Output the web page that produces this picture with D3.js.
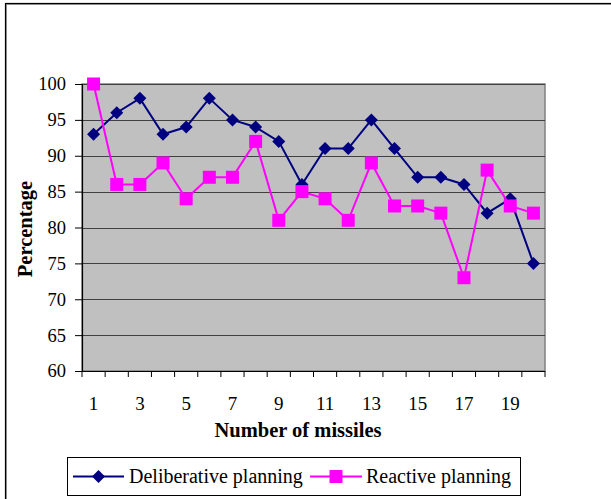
<!DOCTYPE html>
<html>
<head>
<meta charset="utf-8">
<script src="https://cdn.jsdelivr.net/npm/d3@7"></script>
<style>
  body { margin: 0; background: #fff; }
  text { font-family: "Liberation Serif", "Times New Roman", serif; }
</style>
</head>
<body>
<div id="chart"></div>
<script>
// missiles on the x axis, percentages for each planner
var missiles = d3.range(1, 21);
var deliberative = [93, 96, 98, 93, 94, 98, 95, 94, 92, 86, 91, 91, 95, 91, 87, 87, 86, 82, 84, 75];
var reactive = [100, 86, 86, 89, 84, 87, 87, 92, 81, 85, 84, 81, 89, 83, 83, 82, 73, 88, 83, 82];
var yTicks = [60, 65, 70, 75, 80, 85, 90, 95, 100];
var seriesNames = ["Deliberative planning", "Reactive planning"];

var W = 611, H = 499;
var pL = 82, pT = 84, pR = 545, pB = 371;

var svg = d3.select("#chart").append("svg")
  .attr("width", W).attr("height", H);

// outer frame
svg.append("rect").attr("x", 6.5).attr("y", 4.5).attr("width", 700).attr("height", 600)
  .attr("fill", "none").attr("stroke", "#999").attr("stroke-width", 1);
svg.append("rect").attr("x", 5.5).attr("y", 3.5).attr("width", 700).attr("height", 600)
  .attr("fill", "none").attr("stroke", "#000").attr("stroke-width", 1.2);

var x = d3.scaleBand().domain(missiles).range([pL, pR]);
var y = d3.scaleLinear().domain([60, 100]).range([pB, pT]);

// plot background
svg.append("rect").attr("x", pL).attr("y", pT)
  .attr("width", pR - pL).attr("height", pB - pT)
  .attr("fill", "#c0c0c0").attr("stroke", "#808080").attr("stroke-width", 1.5);

// gridlines
svg.selectAll(".grid").data(yTicks.slice(1)).enter().append("line")
  .attr("x1", pL).attr("x2", pR)
  .attr("y1", function(d) { return Math.round(y(d)) + 0.5; })
  .attr("y2", function(d) { return Math.round(y(d)) + 0.5; })
  .attr("stroke", "#404040").attr("stroke-width", 1);

// y axis
var yAxis = svg.append("g").attr("transform", "translate(" + pL + ",0)")
  .call(d3.axisLeft(y).tickValues(yTicks).tickSize(7).tickPadding(9));
yAxis.select(".domain").attr("stroke", "#000").attr("stroke-width", 1.2);
yAxis.selectAll("text").attr("font-size", 18.5).attr("fill", "#000")
  .style("font-family", "Liberation Serif");

// x axis: ticks between categories
var xAxisG = svg.append("g").attr("transform", "translate(0," + pB + ")");
xAxisG.append("line").attr("x1", pL).attr("x2", pR).attr("y1", 0.5).attr("y2", 0.5)
  .attr("stroke", "#000").attr("stroke-width", 1.2);
var edges = missiles.map(function(m) { return x(m); }).concat([pR]);
xAxisG.selectAll(".tk").data(edges).enter().append("line")
  .attr("x1", function(d) { return d; }).attr("x2", function(d) { return d; })
  .attr("y1", 0).attr("y2", 6).attr("stroke", "#000");
xAxisG.selectAll(".lbl").data(missiles.filter(function(m) { return m % 2 === 1; })).enter()
  .append("text")
  .attr("x", function(d) { return x(d) + x.bandwidth() / 2; })
  .attr("y", 39)
  .attr("text-anchor", "middle").attr("font-size", 19)
  .text(function(d) { return d; });

// axis titles
svg.append("text").attr("x", 298).attr("y", 437)
  .attr("text-anchor", "middle").attr("font-size", 20.5).attr("font-weight", "bold")
  .text("Number of missiles");
svg.append("text").attr("transform", "translate(32,229) rotate(-90)")
  .attr("text-anchor", "middle").attr("font-size", 20.5).attr("font-weight", "bold")
  .text("Percentage");

var cx = function(d, i) { return x(missiles[i]) + x.bandwidth() / 2; };
var line = d3.line().x(cx).y(function(d) { return y(d); });

function drawDiamond(g, px, py) {
  g.append("path").attr("d", "M0,-6.5L6.5,0L0,6.5L-6.5,0Z")
    .attr("transform", "translate(" + px + "," + py + ")")
    .attr("fill", "#000080");
}
function drawSquare(g, px, py) {
  g.append("rect").attr("x", px - 6.5).attr("y", py - 6.5).attr("width", 13).attr("height", 13)
    .attr("fill", "#ff00ff");
}

// deliberative series
svg.append("path").datum(deliberative).attr("d", line)
  .attr("fill", "none").attr("stroke", "#000080").attr("stroke-width", 2);
var gd = svg.append("g");
deliberative.forEach(function(v, i) { drawDiamond(gd, cx(v, i), y(v)); });

// reactive series
svg.append("path").datum(reactive).attr("d", line)
  .attr("fill", "none").attr("stroke", "#ff00ff").attr("stroke-width", 2);
var gr = svg.append("g");
reactive.forEach(function(v, i) { drawSquare(gr, cx(v, i), y(v)); });

// legend
var lg = svg.append("g");
lg.append("rect").attr("x", 67.5).attr("y", 457.5).attr("width", 453).attr("height", 38)
  .attr("fill", "#fff").attr("stroke", "#000");
lg.append("line").attr("x1", 73).attr("x2", 124).attr("y1", 476.5).attr("y2", 476.5)
  .attr("stroke", "#000080").attr("stroke-width", 2);
drawDiamond(lg, 98.5, 476.5);
lg.append("text").attr("x", 129).attr("y", 483).attr("font-size", 20).text(seriesNames[0]);
lg.append("line").attr("x1", 310).attr("x2", 362).attr("y1", 476.5).attr("y2", 476.5)
  .attr("stroke", "#ff00ff").attr("stroke-width", 2);
drawSquare(lg, 336, 476.5);
lg.append("text").attr("x", 366).attr("y", 483).attr("font-size", 20).text(seriesNames[1]);
</script>
</body>
</html>
